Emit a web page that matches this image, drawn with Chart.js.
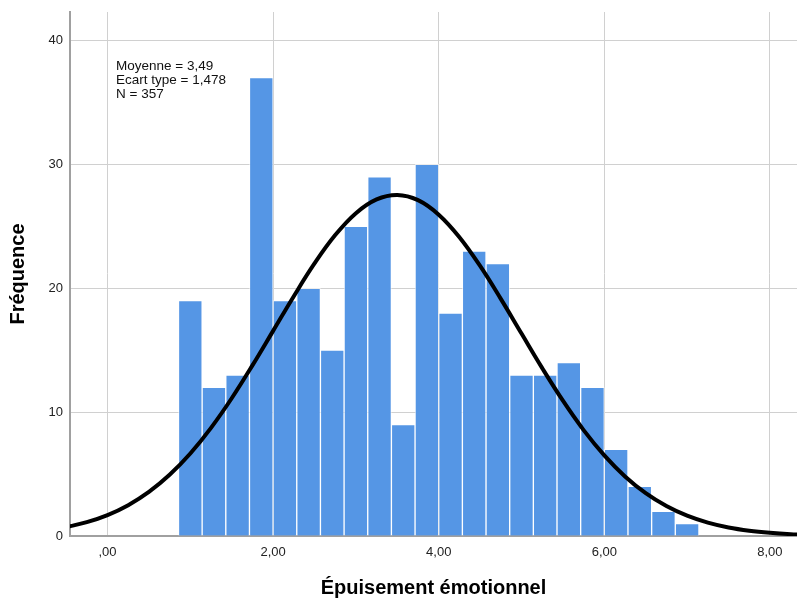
<!DOCTYPE html>
<html lang="fr">
  <head>
    <meta charset="UTF-8" />
    <title>Épuisement émotionnel</title>
    <script src="https://cdn.jsdelivr.net/npm/chart.js"></script>
    <style>
      body {
        margin: 0;
        background: #fff;
      }
      .chart-container {
        width: 797px;
        height: 598px;
      }
    </style>
  </head>
  <body>
    <div class="chart-container">
      <canvas id="histo"></canvas>
    </div>

    <script>
      // effectifs par classe (22 classes de largeur 2/7, la première commence à 6/7)
      const binStart = 6 / 7;
      const binWidth = 2 / 7;
      const frequences = [19, 12, 13, 37, 19, 20, 15, 25, 29, 9, 30, 18, 23, 22, 13, 13, 14, 12, 7, 4, 2, 1];

      // courbe normale
      const courbeX = [-0.5, -0.25, 0, 0.25, 0.5, 0.75, 1, 1.25, 1.5, 1.75, 2, 2.25, 2.5, 2.75, 3, 3.25, 3.5, 3.75, 4, 4.25, 4.5, 4.75, 5, 5.25, 5.5, 5.75, 6, 6.25, 6.5, 6.75, 7, 7.25, 7.5, 7.75, 8, 8.25, 8.5];
      const courbeY = [0.72, 1.12, 1.69, 2.49, 3.56, 4.94, 6.66, 8.73, 11.12, 13.77, 16.56, 19.36, 22.0, 24.29, 26.06, 27.17, 27.53, 27.11, 25.94, 24.12, 21.8, 19.14, 16.34, 13.55, 10.92, 8.55, 6.51, 4.81, 3.46, 2.42, 1.64, 1.08, 0.69, 0.43, 0.26, 0.15, 0.09];

      const xTicks = [0, 2, 4, 6, 8];
      const xTickLabels = [",00", "2,00", "4,00", "6,00", "8,00"];
      const yTicks = [0, 10, 20, 30, 40];
      const yTickLabels = ["0", "10", "20", "30", "40"];

      const stats = ["Moyenne = 3,49", "Ecart type = 1,478", "N = 357"];

      const police = "'Liberation Sans', Arial, sans-serif";

      const barres = frequences.map((f, i) => ({ x: binStart + binWidth * (i + 0.5), y: f }));
      const courbe = courbeX.map((x, i) => ({ x: x, y: courbeY[i] }));

      // texte des statistiques en haut à gauche
      const statsPlugin = {
        id: "stats",
        afterDraw(chart) {
          const ctx = chart.ctx;
          const area = chart.chartArea;
          ctx.save();
          ctx.font = "13.5px " + police;
          ctx.fillStyle = "#111";
          ctx.textBaseline = "middle";
          stats.forEach((t, i) => {
            ctx.fillText(t, area.left + 46, area.top + 54 + i * 14.3);
          });
          ctx.restore();
        },
      };

      const ctx = document.getElementById("histo").getContext("2d");
      new Chart(ctx, {
        type: "bar",
        data: {
          datasets: [
            {
              type: "line",
              data: courbe,
              borderColor: "#000",
              borderWidth: 4,
              pointRadius: 0,
              tension: 0.4,
              fill: false,
              order: 0,
            },
            {
              type: "bar",
              data: barres,
              backgroundColor: "#5596e5",
              borderColor: "rgba(255,255,255,0.6)",
              borderWidth: 1,
              barPercentage: 1,
              categoryPercentage: 1,
              order: 1,
            },
          ],
        },
        options: {
          responsive: true,
          maintainAspectRatio: false,
          animation: false,
          layout: { padding: { top: 12, right: 0, left: 0, bottom: 0 } },
          plugins: {
            legend: { display: false },
            tooltip: { enabled: false },
          },
          scales: {
            x: {
              type: "linear",
              min: -0.453,
              max: 8.327,
              offset: false,
              afterFit(scale) {
                scale.height = 62;
                scale.paddingLeft = 0;
                scale.paddingRight = 0;
              },
              afterBuildTicks(scale) {
                scale.ticks = xTicks.map((v) => ({ value: v }));
              },
              grid: {
                offset: false,
                color: "#d0d0d0",
                lineWidth: 1,
                drawTicks: false,
              },
              border: { color: "#a0a0a0", width: 2 },
              ticks: {
                padding: 9,
                color: "#222",
                font: { size: 13, family: police },
                maxRotation: 0,
                callback: (v) => xTickLabels[xTicks.indexOf(v)],
              },
              title: {
                display: true,
                text: "Épuisement émotionnel",
                color: "#000",
                padding: { top: 0, bottom: 0 },
                font: { size: 20, weight: "bold", family: police, lineHeight: 1 },
              },
            },
            y: {
              min: 0,
              max: 42.3,
              afterFit(scale) {
                scale.width = 70;
                scale.paddingTop = 0;
                scale.paddingBottom = 0;
              },
              afterBuildTicks(scale) {
                scale.ticks = yTicks.map((v) => ({ value: v }));
              },
              grid: {
                color: "#d0d0d0",
                lineWidth: 1,
                drawTicks: false,
              },
              border: { color: "#a0a0a0", width: 2 },
              ticks: {
                padding: 7,
                color: "#222",
                font: { size: 13, family: police },
                callback: (v) => yTickLabels[yTicks.indexOf(v)],
              },
              title: {
                display: true,
                text: "Fréquence",
                color: "#000",
                padding: { top: 8, bottom: 0 },
                font: { size: 20, weight: "bold", family: police, lineHeight: 1 },
              },
            },
          },
        },
        plugins: [statsPlugin],
      });
    </script>
  </body>
</html>
